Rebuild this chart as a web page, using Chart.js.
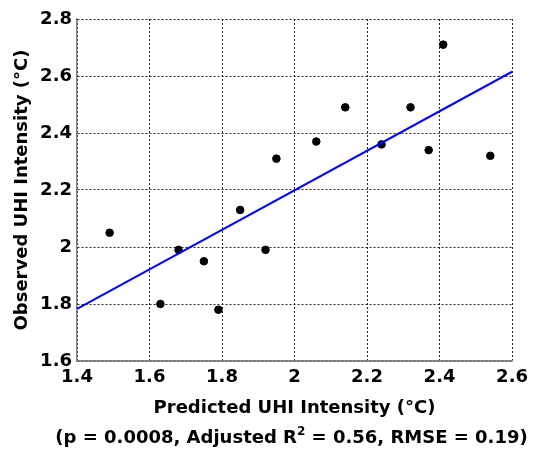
<!DOCTYPE html>
<html>
<head>
<meta charset="utf-8">
<script src="https://cdn.jsdelivr.net/npm/chart.js@4/dist/chart.umd.min.js"></script>
<style>
  html, body { margin: 0; padding: 0; background: #fff; }
  #wrap { width: 534px; height: 454px; }
</style>
</head>
<body>
<div id="wrap"><canvas id="uhiChart" width="534" height="454"></canvas></div>
<script>
// values
const predicted = [1.49, 1.63, 1.68, 1.75, 1.79, 1.85, 1.92, 1.95, 2.06, 2.14, 2.24, 2.32, 2.37, 2.41, 2.54];
const observed  = [2.05, 1.80, 1.99, 1.95, 1.78, 2.13, 1.99, 2.31, 2.37, 2.49, 2.36, 2.49, 2.34, 2.71, 2.32];
const fitX = [1.4, 2.6];
const fitY = [1.783, 2.615];

const xTitle = 'Predicted UHI Intensity (°C)';
const yTitle = 'Observed UHI Intensity (°C)';
// stats line, with the superscript part flagged
const statsParts = [
    ['(p = 0.0008, Adjusted R', false],
    ['2', true],
    [' = 0.56, RMSE = 0.19)', false],
];

const family = '"DejaVu Sans", "Liberation Sans", sans-serif';
const font = { family: family, size: 18, weight: 'bold' };
const fmt = (v) => String(Number(v.toFixed(1)));

const pts = predicted.map((x, i) => ({ x: x, y: observed[i] }));
const fitPts = fitX.map((x, i) => ({ x: x, y: fitY[i] }));

const gridStyle = {
    color: '#222',
    lineWidth: 1,
    drawTicks: false,
};

// second caption line under the x title (needs a superscript)
const statsLinePlugin = {
    id: 'statsLine',
    afterDraw(chart) {
        const ctx = chart.ctx;
        const xs = chart.scales.x;
        const big = 'bold 18px ' + family;
        const small = 'bold 12px ' + family;
        let total = 0;
        statsParts.forEach(([t, sup]) => {
            ctx.font = sup ? small : big;
            total += ctx.measureText(t).width;
        });
        let x = (xs.left + xs.right) / 2 - 3 - total / 2;
        const y = 443;
        ctx.save();
        ctx.fillStyle = '#000';
        ctx.textBaseline = 'alphabetic';
        ctx.textAlign = 'left';
        statsParts.forEach(([t, sup]) => {
            ctx.font = sup ? small : big;
            ctx.fillText(t, x, sup ? y - 8 : y);
            x += ctx.measureText(t).width;
        });
        ctx.restore();
    },
};

new Chart(document.getElementById('uhiChart'), {
    type: 'scatter',
    data: {
        datasets: [
            {
                type: 'line',
                data: fitPts,
                borderColor: '#0000ff',
                borderWidth: 2,
                pointRadius: 0,
                fill: false,
            },
            {
                data: pts,
                backgroundColor: '#000',
                borderColor: '#000',
                pointRadius: 3.8,
                pointHoverRadius: 3.8,
            },
        ],
    },
    plugins: [statsLinePlugin],
    options: {
        responsive: false,
        animation: false,
        layout: { padding: { top: 19, right: 20, left: 10, bottom: 0 } },
        plugins: {
            legend: { display: false },
            tooltip: { enabled: false },
        },
        scales: {
            x: {
                type: 'linear',
                min: 1.4,
                max: 2.6,
                ticks: { stepSize: 0.2, color: '#000', font: font, padding: 6, callback: fmt, maxRotation: 0 },
                grid: gridStyle,
                border: { display: true, color: '#808080', width: 1.5, dash: [2, 2] },
                title: { display: true, text: xTitle, color: '#000', font: font, padding: { top: 0, bottom: 35 } },
                afterFit: (s) => { s.height = 93; },
            },
            y: {
                type: 'linear',
                min: 1.6,
                max: 2.8,
                ticks: { stepSize: 0.2, color: '#000', font: font, padding: 5, callback: fmt },
                grid: gridStyle,
                border: { display: true, color: '#808080', width: 1.5, dash: [2, 2] },
                title: { display: true, text: yTitle, color: '#000', font: font, padding: { top: 2, bottom: 0 } },
                afterFit: (s) => { s.width = 67; },
            },
        },
    },
});
</script>
</body>
</html>
